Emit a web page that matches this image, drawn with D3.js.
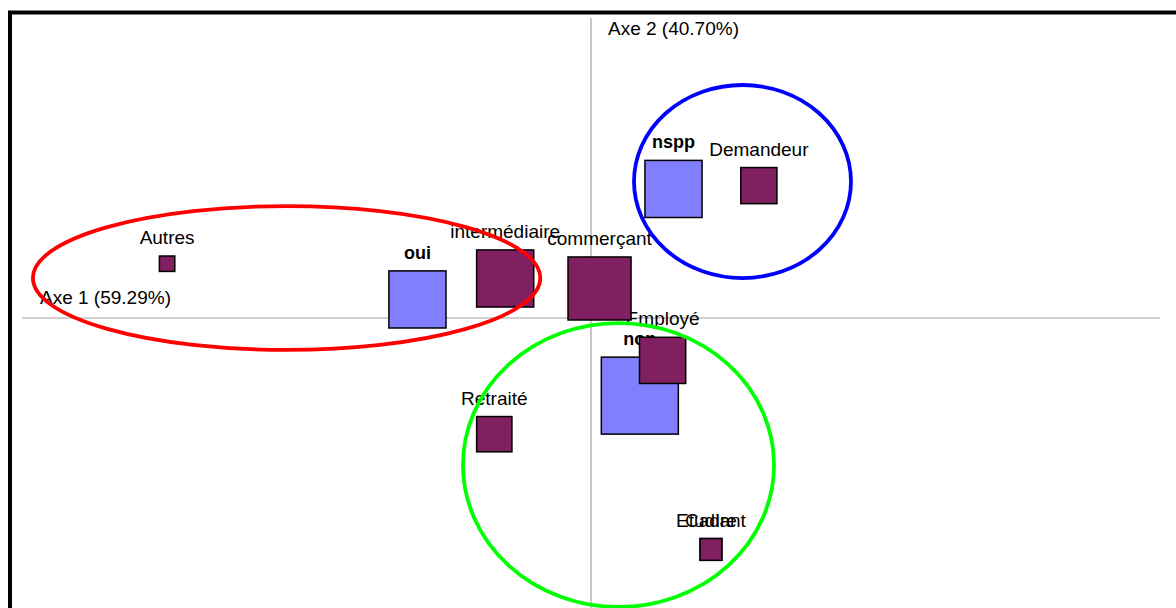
<!DOCTYPE html>
<html>
<head>
<meta charset="utf-8">
<script src="https://cdn.jsdelivr.net/npm/d3@7"></script>
<style>
  body { margin: 0; background: #fff; }
  svg { display: block; font-family: "Liberation Sans", Arial, sans-serif; }
</style>
</head>
<body>
<div id="graf"></div>
<script>
// Plan factoriel (AFC) : modalites colonnes (oui / non / nspp) et lignes (CSP)

// modalites colonnes
const colLabels = ["oui", "non", "nspp"]
const colX = [-0.366, 0.103, 0.174]
const colY = [0.039, -0.163, 0.271]
const colPoids = [55, 100, 55]

// modalites lignes
const rowLabels = ["Autres", "intermédiaire", "commerçant", "Employé", "Retraité", "Etudiant", "Cadre", "Demandeur"]
const rowX = [-0.894, -0.181, 0.018, 0.151, -0.204, 0.253, 0.253, 0.354]
const rowY = [0.114, 0.083, 0.062, -0.089, -0.244, -0.486, -0.486, 0.278]
const rowPoids = [4, 55, 67, 36, 21, 8, 8, 22]

// axes
const axeLabels = ["Axe 1 (59.29%)", "Axe 2 (40.70%)"]

// groupes entoures (centre et rayons en unites des axes)
const groupes = ["gauche", "haut", "bas"]
const groupeCx = [-0.642, 0.3195, 0.058]
const groupeCy = [0.084, 0.2866, -0.3087]
const groupeRx = [0.535, 0.2288, 0.328]
const groupeRy = [0.151, 0.2027, 0.298]

// Dimensions
const anchoTotal = 1176
const altoTotal = 608

const svg = d3.select("#graf")
  .append("svg")
    .attr("width", anchoTotal)
    .attr("height", altoTotal)

const x = d3.scaleLinear().domain([-1.2, 1.2]).range([22, 1160])
const y = d3.scaleLinear().domain([-0.63, 0.63]).range([618, 18])
const cote = d3.scaleSqrt().domain([0, 100]).range([0, 77])
const couleurGroupe = d3.scaleOrdinal().domain(groupes).range(["#ff0000", "#0000ff", "#00ff00"])

// cadre
svg.append("rect")
  .attr("x", 10)
  .attr("y", 12.5)
  .attr("width", 1200)
  .attr("height", 700)
  .attr("fill", "none")
  .attr("stroke", "#000")
  .attr("stroke-width", 4)

// axes
svg.append("line")
  .attr("x1", x.range()[0]).attr("x2", x.range()[1])
  .attr("y1", y(0)).attr("y2", y(0))
  .attr("stroke", "#a0a0a0").attr("stroke-width", 1.2)
svg.append("line")
  .attr("x1", x(0)).attr("x2", x(0))
  .attr("y1", y.range()[1]).attr("y2", y.range()[0])
  .attr("stroke", "#a0a0a0").attr("stroke-width", 1.2)

svg.append("text")
  .attr("x", x.range()[0] + 18)
  .attr("y", y(0) - 14)
  .attr("font-size", "19px")
  .text(axeLabels[0])
svg.append("text")
  .attr("x", x(0) + 17)
  .attr("y", y.range()[1] + 17)
  .attr("font-size", "19px")
  .text(axeLabels[1])

const cols = colLabels.map((d, i) => ({ label: d, x: colX[i], y: colY[i], w: colPoids[i], col: true }))
const rows = rowLabels.map((d, i) => ({ label: d, x: rowX[i], y: rowY[i], w: rowPoids[i], col: false }))
const points = cols.concat(rows)

// etiquettes
svg.append("g")
  .selectAll("text")
  .data(points)
  .join("text")
    .attr("x", (d) => x(d.x))
    .attr("y", (d) => y(d.y) - cote(d.w) / 2 - 12)
    .attr("text-anchor", "middle")
    .attr("font-size", (d) => d.col ? "18px" : "19px")
    .attr("font-weight", (d) => d.col ? "bold" : "normal")
    .text((d) => d.label)

// carres
svg.append("g")
  .selectAll("rect")
  .data(points)
  .join("rect")
    .attr("x", (d) => x(d.x) - cote(d.w) / 2)
    .attr("y", (d) => y(d.y) - cote(d.w) / 2)
    .attr("width", (d) => cote(d.w))
    .attr("height", (d) => cote(d.w))
    .attr("fill", (d) => d.col ? "#8080ff" : "#802060")
    .attr("stroke", "#000")
    .attr("stroke-width", 1.5)

// ellipses
svg.append("g")
  .selectAll("ellipse")
  .data(groupes)
  .join("ellipse")
    .attr("cx", (d, i) => x(groupeCx[i]))
    .attr("cy", (d, i) => y(groupeCy[i]))
    .attr("rx", (d, i) => x(groupeRx[i]) - x(0))
    .attr("ry", (d, i) => y(0) - y(groupeRy[i]))
    .attr("fill", "none")
    .attr("stroke", (d) => couleurGroupe(d))
    .attr("stroke-width", 3.8)
</script>
</body>
</html>
